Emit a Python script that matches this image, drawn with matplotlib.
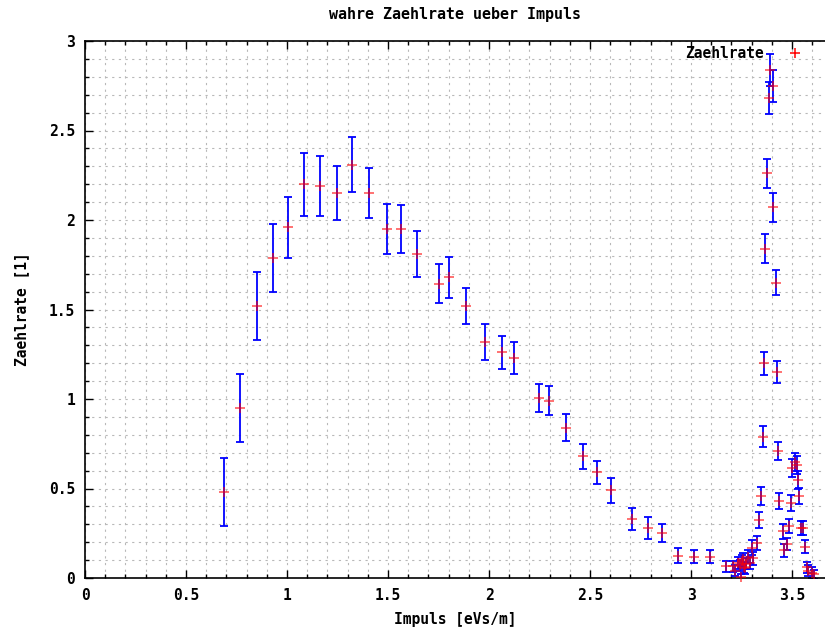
import numpy as np
import matplotlib
matplotlib.use("Agg")
import matplotlib.pyplot as plt
from matplotlib.lines import Line2D
from matplotlib.ticker import MultipleLocator

# Impuls [eVs/m], Zaehlrate, Fehler
impuls = [0.688, 0.767, 0.851, 0.931, 1.005, 1.084, 1.163, 1.248, 1.322, 1.406,
          1.495, 1.564, 1.644, 1.752, 1.802, 1.886, 1.980, 2.064, 2.124, 2.248,
          2.297, 2.381, 2.465, 2.535, 2.604, 2.708, 2.787, 2.856, 2.936, 3.015,
          3.094, 3.173, 3.208, 3.218, 3.233, 3.243, 3.248, 3.252, 3.257, 3.262,
          3.267, 3.272, 3.282, 3.292, 3.302, 3.307, 3.327, 3.337, 3.347, 3.356,
          3.361, 3.366, 3.376, 3.386, 3.391, 3.406, 3.406, 3.421, 3.426, 3.431,
          3.436, 3.455, 3.460, 3.475, 3.485, 3.495, 3.500, 3.515, 3.525, 3.530,
          3.535, 3.545, 3.554, 3.564, 3.574, 3.579, 3.599, 3.609]
rate = [0.48, 0.95, 1.52, 1.79, 1.96, 2.20, 2.19, 2.15, 2.31, 2.15,
        1.95, 1.95, 1.81, 1.645, 1.68, 1.52, 1.32, 1.26, 1.23, 1.005,
        0.99, 0.84, 0.68, 0.59, 0.49, 0.33, 0.28, 0.25, 0.125, 0.12,
        0.12, 0.065, 0.065, 0.04, 0.085, 0.07, 0.005, 0.095, 0.105, 0.06,
        0.055, 0.08, 0.12, 0.085, 0.17, 0.11, 0.195, 0.325, 0.46, 0.79,
        1.20, 1.84, 2.26, 2.68, 2.84, 2.75, 2.07, 1.65, 1.15, 0.71,
        0.43, 0.26, 0.155, 0.19, 0.29, 0.42, 0.615, 0.65, 0.63, 0.55,
        0.46, 0.28, 0.28, 0.175, 0.06, 0.04, 0.03, 0.02]
fehler = [0.19, 0.19, 0.19, 0.19, 0.17, 0.175, 0.17, 0.15, 0.155, 0.14,
          0.14, 0.135, 0.13, 0.11, 0.115, 0.10, 0.10, 0.09, 0.09, 0.08,
          0.08, 0.075, 0.07, 0.065, 0.07, 0.06, 0.06, 0.05, 0.04, 0.035,
          0.035, 0.03, 0.03, 0.03, 0.035, 0.03, 0.02, 0.035, 0.035, 0.03,
          0.03, 0.03, 0.035, 0.035, 0.04, 0.035, 0.04, 0.045, 0.05, 0.06,
          0.065, 0.08, 0.08, 0.09, 0.09, 0.09, 0.08, 0.07, 0.06, 0.05,
          0.045, 0.04, 0.035, 0.035, 0.04, 0.045, 0.05, 0.05, 0.05, 0.05,
          0.045, 0.04, 0.04, 0.035, 0.03, 0.03, 0.03, 0.025]

plt.rcParams['font.family'] = ['DejaVu Sans Mono']
plt.rcParams['font.weight'] = 'bold'
plt.rcParams['font.size'] = 10.5

fig = plt.figure(figsize=(8.25, 6.33), dpi=100)
ax = fig.add_axes([85 / 825, 55 / 633, 740 / 825, 537 / 633])

# grid on every minor tick (gnuplot style)
ax.xaxis.set_major_locator(MultipleLocator(0.5))
ax.xaxis.set_minor_locator(MultipleLocator(0.1))
ax.yaxis.set_major_locator(MultipleLocator(0.5))
ax.yaxis.set_minor_locator(MultipleLocator(0.1))
ax.grid(True, which='both', color='#b8b8b8', linestyle=(0, (2, 4)), linewidth=0.8)
ax.set_axisbelow(True)

# error bars blue, points red on top
ax.errorbar(impuls, rate, yerr=fehler, fmt='none', ecolor='#0000ff',
            elinewidth=1.3, capsize=3, capthick=1.3, zorder=2)
ax.plot(impuls, rate, linestyle='none', marker='+', color='#ff0000',
        markersize=7, markeredgewidth=1.1, alpha=0.7, zorder=3, clip_on=False)

ax.set_xlim(0, 3.663)
ax.set_ylim(0, 3)

ax.tick_params(which='both', direction='in', top=True, right=False, width=1.0)
ax.tick_params(which='major', length=6, pad=7)
ax.tick_params(which='minor', length=3)
ax.set_xticks([0, 0.5, 1, 1.5, 2, 2.5, 3, 3.5])
ax.set_xticklabels(['0', '0.5', '1', '1.5', '2', '2.5', '3', '3.5'])
ax.set_yticks([0, 0.5, 1, 1.5, 2, 2.5, 3])
ax.set_yticklabels(['0', '0.5', '1', '1.5', '2', '2.5', '3'])
ax.spines['right'].set_visible(False)
for s in ['left', 'top', 'bottom']:
    ax.spines[s].set_linewidth(1.2)

ax.set_title('wahre Zaehlrate ueber Impuls', pad=16, fontweight='bold', fontsize=10.8)
ax.set_xlabel('Impuls [eVs/m]', labelpad=7, fontweight='bold')
ax.set_ylabel('Zaehlrate [1]', labelpad=14, fontweight='bold')

handle = Line2D([], [], linestyle='none', marker='+', color='#ff0000',
                markersize=7, markeredgewidth=1.1)
ax.legend([handle], ['Zaehlrate'], loc='upper right', bbox_to_anchor=(0.992, 1.015),
          frameon=False, markerfirst=False, handlelength=1.5, handletextpad=1.4,
          prop={'weight': 'bold', 'size': 10.5})

fig.savefig('out.png', dpi=100)
